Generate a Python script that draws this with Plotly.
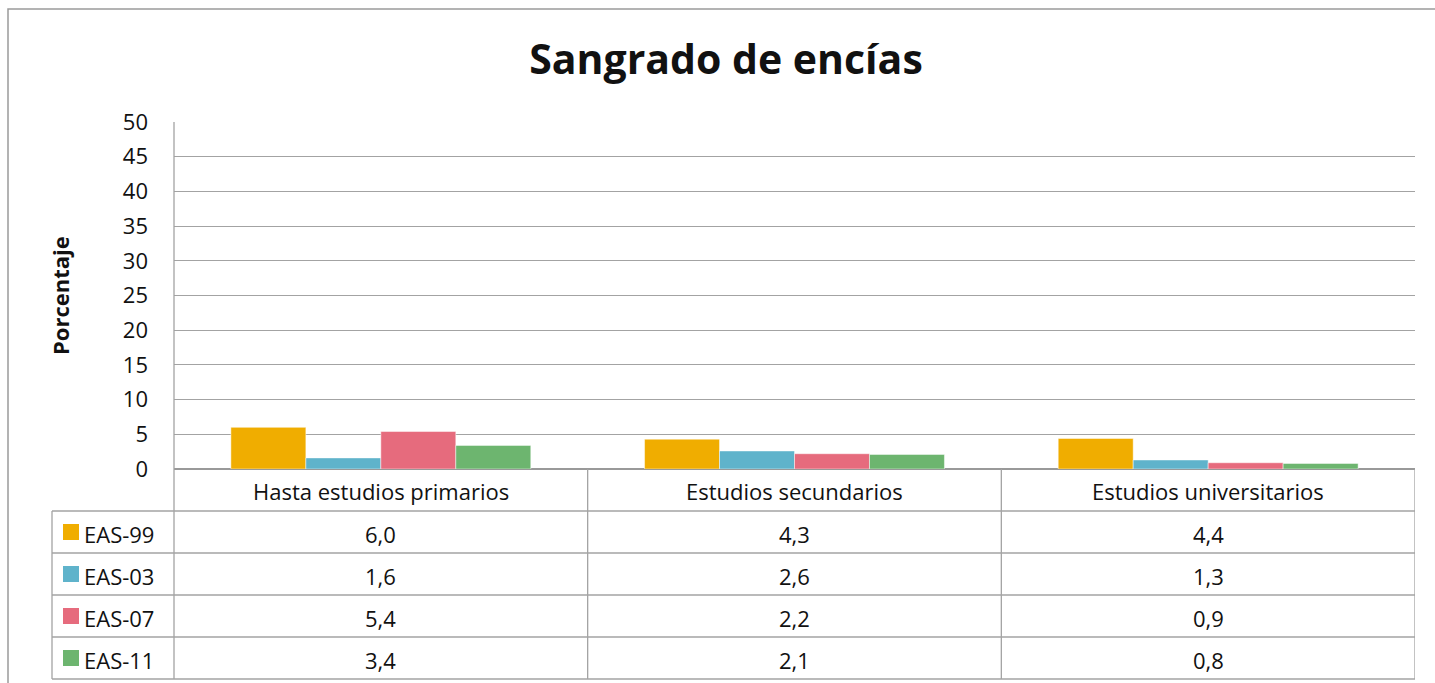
import plotly.graph_objects as go

# Data
categories = ["Hasta estudios primarios", "Estudios secundarios", "Estudios universitarios"]
series_names = ["EAS-99", "EAS-03", "EAS-07", "EAS-11"]
eas_99 = [6.0, 4.3, 4.4]
eas_03 = [1.6, 2.6, 1.3]
eas_07 = [5.4, 2.2, 0.9]
eas_11 = [3.4, 2.1, 0.8]
series_values = [eas_99, eas_03, eas_07, eas_11]
colors = ["#F0AD00", "#5FB3CB", "#E66B7D", "#6DB56F"]
y_ticks = [0, 5, 10, 15, 20, 25, 30, 35, 40, 45, 50]

W, H = 1435, 683
# plot area in pixels
L, R, T, B = 174, 1415, 122, 469
PW, PH = R - L, B - T

FONT = "Open Sans"
GRID = "#A3A3A3"
TXT = "#111"
CELL_SIZE = 22


def px_x(X):
    return (X - L) / PW


def px_y(Y):
    return (B - Y) / PH


def fmt(v):
    return f"{v:.1f}".replace(".", ",")


fig = go.Figure()
xs = list(range(len(categories)))
for name, vals, col in zip(series_names, series_values, colors):
    fig.add_trace(go.Bar(
        x=xs, y=vals, name=name,
        marker=dict(color=col, line=dict(width=0.8, color="rgba(255,255,255,0.6)")),
        showlegend=False, hoverinfo="skip"))

shapes = []
annotations = []
line = dict(color=GRID, width=1.3)

# table geometry (pixel rows)
row_edges = [469, 511, 553, 595, 637, 679]
left_col = 52

# horizontal table lines
for Y in row_edges[1:]:
    shapes.append(dict(type="line", xref="paper", yref="paper",
                       x0=px_x(left_col), x1=1, y0=px_y(Y), y1=px_y(Y), line=line))
# left column outer border
shapes.append(dict(type="line", xref="paper", yref="paper",
                   x0=px_x(left_col), x1=px_x(left_col),
                   y0=px_y(row_edges[1]), y1=px_y(row_edges[-1]), line=line))
# category column boundaries
for xb in [0.5, 1.5, 2.5]:
    shapes.append(dict(type="line", xref="x", yref="paper", x0=xb, x1=xb,
                       y0=0, y1=px_y(row_edges[-1]), line=line))
# y axis line continued down through the table
shapes.append(dict(type="line", xref="paper", yref="paper", x0=0, x1=0,
                   y0=1, y1=px_y(row_edges[-1]), line=line))
# outer chart border
shapes.append(dict(type="rect", xref="paper", yref="paper",
                   x0=px_x(8), x1=px_x(1460), y0=px_y(9), y1=px_y(700),
                   line=dict(color="#9A9A9A", width=1.5)))

# header row: category names
hy = px_y((row_edges[0] + row_edges[1]) / 2 + 1)
for i, c in enumerate(categories):
    annotations.append(dict(x=i, y=hy, xref="x", yref="paper", text=c,
                            showarrow=False, xanchor="center", yanchor="middle",
                            font=dict(family=FONT, size=CELL_SIZE, color=TXT)))

# data rows
for r, (name, vals, col) in enumerate(zip(series_names, series_values, colors)):
    cy_px = (row_edges[r + 1] + row_edges[r + 2]) / 2 + 2
    cy = px_y(cy_px)
    shapes.append(dict(type="rect", xref="paper", yref="paper",
                       x0=px_x(63), x1=px_x(79),
                       y0=px_y(cy_px - 2 - 8), y1=px_y(cy_px - 2 + 8),
                       fillcolor=col, line=dict(width=0)))
    annotations.append(dict(x=px_x(82), y=cy, xref="paper", yref="paper", text=name,
                            showarrow=False, xanchor="left", yanchor="middle",
                            font=dict(family=FONT, size=CELL_SIZE, color=TXT)))
    for i, v in enumerate(vals):
        annotations.append(dict(x=i, y=cy, xref="x", yref="paper", text=fmt(v),
                                showarrow=False, xanchor="center", yanchor="middle",
                                font=dict(family=FONT, size=CELL_SIZE, color=TXT)))

# y axis title
annotations.append(dict(x=px_x(60), y=px_y(295), xref="paper", yref="paper",
                        text="<b>Porcentaje</b>", textangle=-90, showarrow=False,
                        xanchor="center", yanchor="middle",
                        font=dict(family=FONT, size=22, color=TXT)))

fig.update_layout(
    width=W, height=H,
    margin=dict(l=L, r=W - R, t=T, b=H - B, pad=0),
    paper_bgcolor="white", plot_bgcolor="white",
    barmode="group", bargap=0.275, bargroupgap=0,
    title=dict(text="<b>Sangrado de encías</b>", x=726 / W,
               xanchor="center", y=1 - 60 / H, yanchor="middle",
               font=dict(family=FONT, size=41, color=TXT)),
    xaxis=dict(range=[-0.5, 2.5], showticklabels=False, showgrid=False,
               zeroline=False, showline=False, fixedrange=True),
    yaxis=dict(range=[0, 50], tickvals=y_ticks, showgrid=True, gridcolor=GRID,
               gridwidth=1.3, zeroline=True, zerolinecolor="#999", zerolinewidth=2.2,
               showline=False, ticks="", ticklabelstandoff=25,
               tickfont=dict(family=FONT, size=22, color=TXT), fixedrange=True),
    shapes=shapes,
    annotations=annotations,
)

fig.write_html("out.html")
